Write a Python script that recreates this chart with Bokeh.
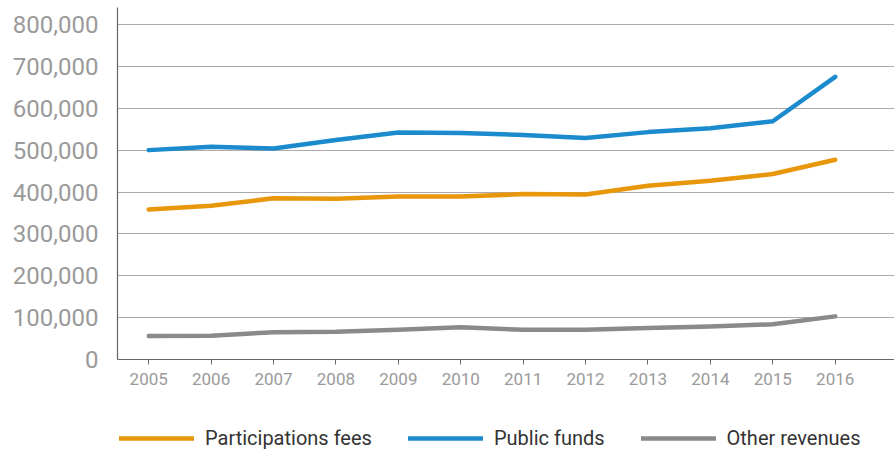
from bokeh.plotting import figure
from bokeh.layouts import column
from bokeh.models import (ColumnDataSource, Legend, LegendItem, FixedTicker,
                          NumeralTickFormatter, Range1d)
from bokeh.embed import file_html
from bokeh.resources import INLINE

years = [2005, 2006, 2007, 2008, 2009, 2010, 2011, 2012, 2013, 2014, 2015, 2016]
participation_fees = [358000, 367000, 385000, 384000, 389000, 389000, 395000, 394000, 415000, 427000, 443000, 477000]
public_funds = [500000, 508000, 504000, 524000, 542000, 541000, 536000, 529000, 543000, 552000, 569000, 675000]
other_revenues = [56000, 57000, 65000, 66000, 71000, 77000, 71000, 71000, 75000, 79000, 84000, 103000]
y_ticks = [0, 100000, 200000, 300000, 400000, 500000, 600000, 700000, 800000]

series = [
    ("Participations fees", participation_fees, "#E8960A"),
    ("Public funds", public_funds, "#1B8BCE"),
    ("Other revenues", other_revenues, "#8A8A8A"),
]

p = figure(width=894, height=400, output_backend="svg", toolbar_location=None,
           x_range=Range1d(2004.5, 2016.95), y_range=Range1d(0, 840600),
           min_border_left=117, min_border_right=0, min_border_top=7,
           min_border_bottom=41)
p.outline_line_color = None
p.background_fill_color = "white"
p.border_fill_color = "white"

for name, vals, color in series:
    src = ColumnDataSource(dict(x=years, y=vals))
    p.line("x", "y", source=src, line_color=color, line_width=4.5,
           line_cap="round", line_join="round")

p.xgrid.grid_line_color = None
p.ygrid.grid_line_color = "#ABABAB"
p.ygrid.grid_line_width = 1
p.ygrid.ticker = FixedTicker(ticks=y_ticks)

p.yaxis.ticker = FixedTicker(ticks=y_ticks)
p.yaxis.formatter = NumeralTickFormatter(format="0,0")
p.yaxis.major_tick_out = 0
p.yaxis.major_tick_in = 0
p.yaxis.minor_tick_out = 0
p.yaxis.minor_tick_in = 0
p.yaxis.major_label_standoff = 19
p.yaxis.major_label_text_font = "Roboto"
p.yaxis.major_label_text_font_size = "24px"
p.yaxis.major_label_text_color = "#9A9A9A"
p.yaxis.axis_line_color = "#666666"
p.yaxis.axis_line_width = 1.2

p.xaxis.ticker = FixedTicker(ticks=years)
p.xaxis.major_tick_out = 5
p.xaxis.major_tick_in = 0
p.xaxis.minor_tick_out = 0
p.xaxis.minor_tick_in = 0
p.xaxis.major_tick_line_color = "#666666"
p.xaxis.major_label_standoff = 8
p.xaxis.major_label_text_font = "Roboto"
p.xaxis.major_label_text_font_size = "17px"
p.xaxis.major_label_text_color = "#9A9A9A"
p.xaxis.axis_line_color = "#666666"
p.xaxis.axis_line_width = 1.2

# legend strip below the chart (its lines lie outside its visible range)
lg = figure(width=894, height=50, output_backend="svg", toolbar_location=None,
            x_range=Range1d(2004.5, 2016.95), y_range=Range1d(-2, -1),
            x_axis_type=None, y_axis_type=None,
            min_border_left=117, min_border_right=0, min_border_top=0,
            min_border_bottom=0)
lg.outline_line_color = None
lg.xgrid.visible = False
lg.ygrid.visible = False
items = []
for name, vals, color in series:
    r = lg.line(x=years, y=vals, line_color=color, line_width=4.5, line_cap="round")
    items.append(LegendItem(label=name, renderers=[r]))

legend = Legend(items=items, orientation="horizontal", location=(2, 0),
                glyph_width=75, glyph_height=20, label_height=20,
                label_standoff=11, spacing=36, padding=2, margin=0,
                border_line_color=None, background_fill_alpha=0,
                label_text_font="Roboto", label_text_font_size="20px",
                label_text_color="#333333")
lg.add_layout(legend, "center")

layout = column(p, lg, spacing=0)
open("out.html", "w").write(file_html(layout, INLINE))
